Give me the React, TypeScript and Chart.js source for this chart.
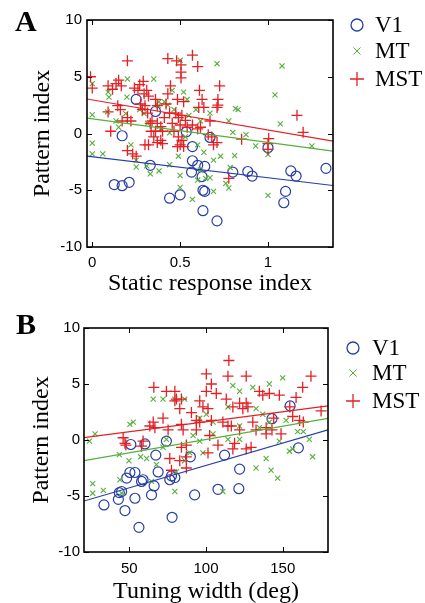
import React, { useEffect, useRef } from 'react';
import { Chart, registerables } from 'chart.js';
Chart.register(...registerables);

type Pt = [number, number];

const BLUE = 'rgb(40,62,165)';
const GREEN = 'rgb(85,175,60)';
const RED = 'rgb(228,32,36)';

const seriesNames = ['V1', 'MT', 'MST'];

// ---------- Panel A: Static response index ----------
const xTicksA = [0, 0.5, 1];
const yTicks = [-10, -5, 0, 5, 10];
const xRangeA: Pt = [-0.03, 1.37];

const V1_A: Pt[] = [
  [0.25, 3.0], [0.36, 1.94], [0.17, -0.2], [0.125, -4.5], [0.17, -4.6], [0.21, -4.3],
  [0.33, -2.8], [0.44, -5.7], [0.5, -5.4], [0.535, 0.15], [0.57, -1.15], [0.57, -2.4],
  [0.6, -2.8], [0.64, -2.9], [0.565, -3.4], [0.625, -3.8], [0.63, -5.0], [0.64, -5.1],
  [0.63, -6.8], [0.71, -7.7], [0.67, -0.35], [0.8, -3.4], [0.885, -3.35], [0.91, -3.75],
  [1.0, -1.25], [1.13, -3.3], [1.16, -3.75], [1.1, -5.1], [1.09, -6.1], [1.33, -3.07],
];

const MT_A: Pt[] = [
  [0, 4.4], [0, 1.65], [0, -0.85], [0, -1.8], [0.06, -1.8], [0.09, 3.65], [0.095, 3.2],
  [0.087, 1.9], [0.135, 1.1], [0.2, 4.8], [0.197, 3.2], [0.22, -1.0], [0.25, -2.95],
  [0.25, -2.35], [0.27, 2.1], [0.31, -2.85], [0.33, -3.55], [0.35, 4.8], [0.375, 2.45],
  [0.38, 2.8], [0.38, -3.3], [0.43, 2.5], [0.44, 0.05], [0.44, -2.75], [0.455, 3.8],
  [0.49, -2.0], [0.5, 6.45], [0.5, -3.7], [0.5, -4.75], [0.52, 3.65], [0.53, -0.3],
  [0.54, 3.0], [0.57, -5.8], [0.59, 2.1], [0.6, -1.0], [0.6, -4.1], [0.616, -3.2],
  [0.635, -1.65], [0.645, -3.95], [0.67, 1.8], [0.67, -3.9], [0.69, -5.1], [0.71, 6.15],
  [0.76, -4.4], [0.777, 1.1], [0.777, -4.8], [0.8, 0.1], [0.81, -1.95], [0.815, 2.2],
  [0.83, 2.1], [0.875, -0.1], [0.93, -1.1], [1.0, -1.85], [1.0, -5.45], [1.07, 0.85],
  [1.04, 3.4], [1.08, 5.95], [1.25, -1.1], [0.69, -2.35], [0.73, -2.0], [0.785, -3.0],
  [0.315, 0.9], [0.41, 2.8], [0.465, 2.1], [0.55, 1.6], [0.19, 1.75], [0.15, 0.55],
  [0.616, 1.1], [0.295, 1.75], [0.39, 0.4],
];

const MST_A: Pt[] = [
  [-0.01, 5.0], [0, 4.0], [0.09, 4.2], [0.115, 3.9], [0.135, 4.4], [0.15, 4.7], [0.165, 4.2],
  [0.2, 6.4], [0.09, 1.9], [0.105, 0.2], [0.145, 2.45], [0.16, 2.1], [0.17, 1.1], [0.2, 1.4],
  [0.22, 1.1], [0.24, 4.0], [0.26, 3.8], [0.27, 4.3], [0.29, 4.6], [0.295, 3.5], [0.275, 2.6],
  [0.285, 2.1], [0.3, 2.45], [0.31, 3.8], [0.32, 3.3], [0.315, 1.8], [0.33, 0.9], [0.34, 1.1],
  [0.335, 0.2], [0.35, -0.3], [0.3, -1.0], [0.32, -1.0], [0.37, -0.8], [0.39, -0.6],
  [0.4, -0.9], [0.2, -1.5], [0.23, -1.8], [0.25, -2.0], [0.43, 6.6], [0.43, 3.5], [0.445, 4.2],
  [0.42, 2.6], [0.44, 1.8], [0.41, 1.4], [0.455, 0.9], [0.39, 0.6], [0.48, 6.4], [0.505, 6.05],
  [0.505, 5.4], [0.505, 4.9], [0.485, 3.0], [0.52, 2.8], [0.475, 1.8], [0.49, 1.4], [0.51, 1.6],
  [0.53, 1.15], [0.5, 0.75], [0.465, 0.2], [0.49, -0.3], [0.51, -0.6], [0.5, -1.0],
  [0.52, -1.15], [0.485, -1.15], [0.57, 6.9], [0.6, 5.9], [0.61, 3.8], [0.625, 3.0],
  [0.606, 2.3], [0.635, 2.3], [0.57, 0.75], [0.6, 0.4], [0.616, 0.55], [0.54, 0.55],
  [0.67, 1.1], [0.66, -0.1], [0.68, -0.3], [0.71, -0.8], [0.69, -1.0], [0.715, 3.0],
  [0.715, 2.5], [0.71, 2.3], [0.725, 4.2], [0.777, -3.95], [0.85, -0.5], [1.004, -0.45],
  [1.0, -0.9], [1.0, -1.4], [1.165, 1.6], [1.2, 0.1], [0.36, 3.0], [0.37, 2.45], [0.37, 0.9],
  [0.36, 0.2], [0.4, 0.2],
];

const FIT_V1_A: Pt[] = [[-0.03, -2.0], [1.37, -4.58]];
const FIT_MT_A: Pt[] = [[-0.03, 1.36], [1.37, -1.56]];
const FIT_MST_A: Pt[] = [[-0.03, 3.04], [1.37, -0.67]];

// ---------- Panel B: Tuning width ----------
const xTicksB = [50, 100, 150];
const xRangeB: Pt = [20.5, 179.5];

const V1_B: Pt[] = [
  [33.5, -5.8], [43.5, -4.7], [42.9, -5.3], [47.2, -6.3], [48.3, -3.4], [51, -0.4],
  [50.4, -2.9], [53.7, -2.9], [53.7, -5.2], [56.3, -7.8], [58, -3.7], [60.2, -0.35],
  [59, -3.55], [64.5, -4.9], [66.2, -4.1], [67.3, -1.35], [68.8, -2.85], [74.2, -0.1],
  [76.4, -3.55], [77.5, -3.2], [79.7, -3.35], [77.9, -6.9], [89.8, -1.5], [92.6, -4.9],
  [107.8, -4.4], [112.1, -1.35], [121.9, -2.6], [121.4, -4.35], [143, 1.9], [154.8, 3.05],
  [160.2, -0.7], [45, -4.6],
];

const MT_B: Pt[] = [
  [24, -0.1], [27.7, 0.55], [26.2, -3.9], [26.2, -4.75], [33.1, -4.5], [50.4, 1.4],
  [52.6, 1.6], [43.5, -1.3], [43.9, -3.55], [45, -4.75], [49.8, -1.85], [57.4, -1.5],
  [61.3, -1.65], [65.6, 3.65], [72, 3.65], [79.7, 3.65], [86.1, 3.65], [74.2, 0.05],
  [72, -0.65], [79.7, -4.6], [80.7, -2.85], [86.1, -1.85], [91.6, 0.4], [95.9, -0.1],
  [98, -1.15], [100.2, 2.3], [104.6, 1.6], [111, -4.6], [117.5, 4.85], [121.9, 4.35],
  [114.3, 0.05], [121.9, 0.05], [130.5, 4.7], [132.6, -2.5], [134.8, 1.1], [139.2, -1.65],
  [141.3, 5.0], [142.4, -2.7], [146.7, -3.4], [150, 5.55], [152.2, 1.75], [154.4, -1.0],
  [163.4, 0.75], [167.3, 0.05], [169.5, -1.5], [156.5, -0.8], [137, 2.3], [132.6, 2.8],
  [104.6, 0.55], [89.4, -1.15], [67.7, -2.2], [64.5, -3.7], [95.9, 1.95], [114.3, 2.95],
  [121.9, 1.25], [141.3, 1.6], [147.8, -0.1], [159.7, 0.75],
];

const MST_B: Pt[] = [
  [46, 0.2], [47.2, -0.3], [47.8, -0.45], [58, -0.55], [59, -0.1], [66, 4.7], [65.6, 1.6],
  [66.7, 1.1], [72, 1.95], [74.2, 4.35], [75.3, 0.9], [79.7, 4.35], [79.7, 3.5], [80.7, 3.65],
  [76.4, -1.65], [77.5, -2.7], [82.9, 2.8], [84, 1.4], [85.1, 0.9], [84, -0.65], [87.2, -1.5],
  [87.2, -2.5], [82.9, -1.85], [90.5, 2.45], [93.7, 1.75], [95.9, 1.6], [98, 2.95],
  [100.2, 5.9], [100.2, 4.35], [101.3, 2.8], [103.5, 1.75], [102.4, 0.4], [101.3, -1.15],
  [106.7, 4.15], [107.8, -0.45], [111, 1.6], [113.2, 3.65], [114.9, 7.1], [114.3, 5.7],
  [116.5, 1.25], [117.5, 2.95], [118.6, -0.3], [121.9, 3.3], [124, 2.8], [126.2, 5.7],
  [126.2, 3.3], [127.3, 2.95], [126.2, -0.8], [129.4, -0.65], [130.5, 1.6], [134.8, 4.35],
  [137, 4.0], [139.2, 1.1], [139.2, 0.55], [141.3, 4.15], [143, 0.9], [147.8, 4.0],
  [148.9, 0.55], [154.6, 2.95], [158.7, 3.8], [161, 1.75], [163, 4.7], [163.4, 1.6],
  [168.4, 5.7], [175, 2.6], [156.5, 2.1], [121.9, 0.9], [114.3, 1.25], [87.2, -0.45],
  [93.7, 0.9], [117.5, -0.8], [84, 3.65], [103.5, 5.0], [132.6, 0.9], [144.1, 1.95],
  [63.4, 1.25], [95.9, 3.5],
];

const FIT_V1_B: Pt[] = [[20.5, -5.45], [179.5, 0.91]];
const FIT_MT_B: Pt[] = [[20.5, -1.84], [179.5, 1.94]];
const FIT_MST_B: Pt[] = [[20.5, 0.22], [179.5, 3.04]];

const toXY = (a: Pt[]) => a.map(([x, y]) => ({ x, y }));

const SERIF = '"Liberation Serif", "Times New Roman", serif';
const SANS = '"Liberation Sans", Arial, sans-serif';

interface PanelProps {
  top: number;
  height: number;
  plot: { left: number; right: number; top: number; bottom: number };
  xRange: Pt;
  xTicks: number[];
  xTitle: string;
  titleXPadBottom: number;
  titleYPadTop: number;
  yTickPad: number;
  xTickPad: number;
  v1: Pt[];
  mt: Pt[];
  mst: Pt[];
  fits: Pt[][];
  legend: { mx: number; tx: number; ys: number[] };
}

function drawMarker(ctx: CanvasRenderingContext2D, kind: number, x: number, y: number, r: number) {
  ctx.beginPath();
  if (kind === 0) {
    ctx.arc(x, y, r, 0, Math.PI * 2);
  } else if (kind === 1) {
    const d = r * 0.7071;
    ctx.moveTo(x - d, y - d); ctx.lineTo(x + d, y + d);
    ctx.moveTo(x - d, y + d); ctx.lineTo(x + d, y - d);
  } else {
    ctx.moveTo(x - r, y); ctx.lineTo(x + r, y);
    ctx.moveTo(x, y - r); ctx.lineTo(x, y + r);
  }
  ctx.stroke();
}

function Panel(p: PanelProps) {
  const ref = useRef<HTMLCanvasElement | null>(null);
  useEffect(() => {
    if (!ref.current) return;
    const colors = [BLUE, GREEN, RED];
    const boxPlugin = {
      id: 'boxTicks',
      afterDatasetsDraw(chart: any) {
        const { ctx, chartArea: a, scales } = chart;
        ctx.save();
        ctx.strokeStyle = '#000';
        ctx.lineWidth = 1;
        const L = 5;
        ctx.beginPath();
        scales.x.ticks.forEach((t: any) => {
          const px = Math.round(scales.x.getPixelForValue(t.value)) + 0.5;
          ctx.moveTo(px, a.bottom); ctx.lineTo(px, a.bottom - L);
          ctx.moveTo(px, a.top); ctx.lineTo(px, a.top + L);
        });
        scales.y.ticks.forEach((t: any) => {
          const py = Math.round(scales.y.getPixelForValue(t.value)) + 0.5;
          ctx.moveTo(a.left, py); ctx.lineTo(a.left + L, py);
          ctx.moveTo(a.right, py); ctx.lineTo(a.right - L, py);
        });
        ctx.stroke();
        ctx.lineWidth = 1.6;
        ctx.strokeRect(a.left, a.top, a.right - a.left, a.bottom - a.top);
        ctx.restore();
      },
    };
    const legendPlugin = {
      id: 'customLegend',
      afterDraw(chart: any) {
        const ctx = chart.ctx as CanvasRenderingContext2D;
        ctx.save();
        ctx.font = `23px ${SERIF}`;
        ctx.textBaseline = 'middle';
        ctx.textAlign = 'left';
        seriesNames.forEach((name, i) => {
          const y = p.legend.ys[i];
          ctx.strokeStyle = colors[i];
          ctx.lineWidth = i === 1 ? 1 : 1.3;
          drawMarker(ctx, i, p.legend.mx, y, i === 0 ? 6 : i === 1 ? 5 : 7);
          ctx.fillStyle = '#000';
          ctx.fillText(name, p.legend.tx, y + 1);
        });
        ctx.restore();
      },
    };
    const scatter = (data: Pt[], color: string, style: string, r: number, bw: number, order: number) => ({
      type: 'scatter' as const,
      data: toXY(data),
      pointStyle: style,
      pointRadius: r,
      pointHoverRadius: r,
      pointBorderColor: color,
      pointBackgroundColor: 'rgba(0,0,0,0)',
      pointBorderWidth: bw,
      borderColor: color,
      backgroundColor: 'rgba(0,0,0,0)',
      showLine: false,
      order,
    });
    const fitLine = (data: Pt[], color: string) => ({
      type: 'scatter' as const,
      data: toXY(data),
      showLine: true,
      borderColor: color,
      borderWidth: 1.2,
      pointRadius: 0,
      order: 0,
    });
    const chart = new Chart(ref.current, {
      type: 'scatter',
      data: {
        datasets: [
          scatter(p.v1, BLUE, 'circle', 5, 1.2, 3),
          scatter(p.mt, GREEN, 'crossRot', 3.6, 1.1, 2),
          scatter(p.mst, RED, 'cross', 5.5, 1.3, 1),
          fitLine(p.fits[0], BLUE),
          fitLine(p.fits[1], GREEN),
          fitLine(p.fits[2], RED),
        ] as any,
      },
      options: {
        animation: false,
        responsive: false,
        devicePixelRatio: 1,
        events: [],
        layout: {
          padding: { left: 0, top: p.plot.top, right: 425 - p.plot.right, bottom: 0 },
        },
        plugins: { legend: { display: false }, tooltip: { enabled: false } },
        scales: {
          x: {
            type: 'linear',
            min: p.xRange[0],
            max: p.xRange[1],
            grid: { display: false, drawTicks: false },
            border: { display: false },
            afterBuildTicks: (s: any) => { s.ticks = p.xTicks.map((v) => ({ value: v })); },
            afterFit: (s: any) => { s.height = p.height - p.plot.bottom; },
            ticks: {
              autoSkip: false,
              maxRotation: 0,
              padding: p.xTickPad,
              color: '#000',
              font: { family: SANS, size: 15 },
              callback: (v: any) => String(Number(v)),
            },
            title: {
              display: true,
              text: p.xTitle,
              color: '#000',
              font: { family: SERIF, size: 24, lineHeight: 1 },
              padding: { top: 0, bottom: p.titleXPadBottom },
            },
          },
          y: {
            type: 'linear',
            min: -10,
            max: 10,
            grid: { display: false, drawTicks: false },
            border: { display: false },
            afterBuildTicks: (s: any) => { s.ticks = yTicks.map((v) => ({ value: v })); },
            afterFit: (s: any) => { s.width = p.plot.left; },
            ticks: {
              autoSkip: false,
              padding: p.yTickPad,
              color: '#000',
              font: { family: SANS, size: 15 },
              callback: (v: any) => String(Number(v)),
            },
            title: {
              display: true,
              text: 'Pattern index',
              color: '#000',
              font: { family: SERIF, size: 24, lineHeight: 1 },
              padding: { top: p.titleYPadTop, bottom: 0 },
            },
          },
        },
      } as any,
      plugins: [boxPlugin, legendPlugin],
    });
    return () => chart.destroy();
  }, []);
  return (
    <canvas
      ref={ref}
      width={425}
      height={p.height}
      style={{ position: 'absolute', left: 0, top: p.top, width: 425, height: p.height }}
    />
  );
}

const letterStyle = (left: number, top: number): React.CSSProperties => ({
  position: 'absolute',
  left,
  top,
  fontFamily: SERIF,
  fontWeight: 'bold',
  fontSize: 30,
  lineHeight: '30px',
  color: '#000',
});

export default function App() {
  return (
    <div
      style={{
        position: 'absolute',
        left: 0,
        top: 0,
        width: 425,
        height: 603,
        overflow: 'hidden',
        background: '#fff',
      }}
    >
      <Panel
        top={0}
        height={300}
        plot={{ left: 87, right: 333, top: 20, bottom: 247 }}
        xRange={xRangeA}
        xTicks={xTicksA}
        xTitle="Static response index"
        titleXPadBottom={4}
        titleYPadTop={31}
        yTickPad={5}
        xTickPad={7}
        v1={V1_A}
        mt={MT_A}
        mst={MST_A}
        fits={[FIT_V1_A, FIT_MT_A, FIT_MST_A]}
        legend={{ mx: 357, tx: 375, ys: [25, 51, 79] }}
      />
      <Panel
        top={300}
        height={303}
        plot={{ left: 84, right: 328, top: 28, bottom: 252 }}
        xRange={xRangeB}
        xTicks={xTicksB}
        xTitle="Tuning width (deg)"
        titleXPadBottom={-1}
        titleYPadTop={30}
        yTickPad={4}
        xTickPad={8}
        v1={V1_B}
        mt={MT_B}
        mst={MST_B}
        fits={[FIT_V1_B, FIT_MT_B, FIT_MST_B]}
        legend={{ mx: 353, tx: 372, ys: [48, 73, 101] }}
      />
      <div style={letterStyle(15, 6)}>A</div>
      <div style={letterStyle(16, 309)}>B</div>
    </div>
  );
}
